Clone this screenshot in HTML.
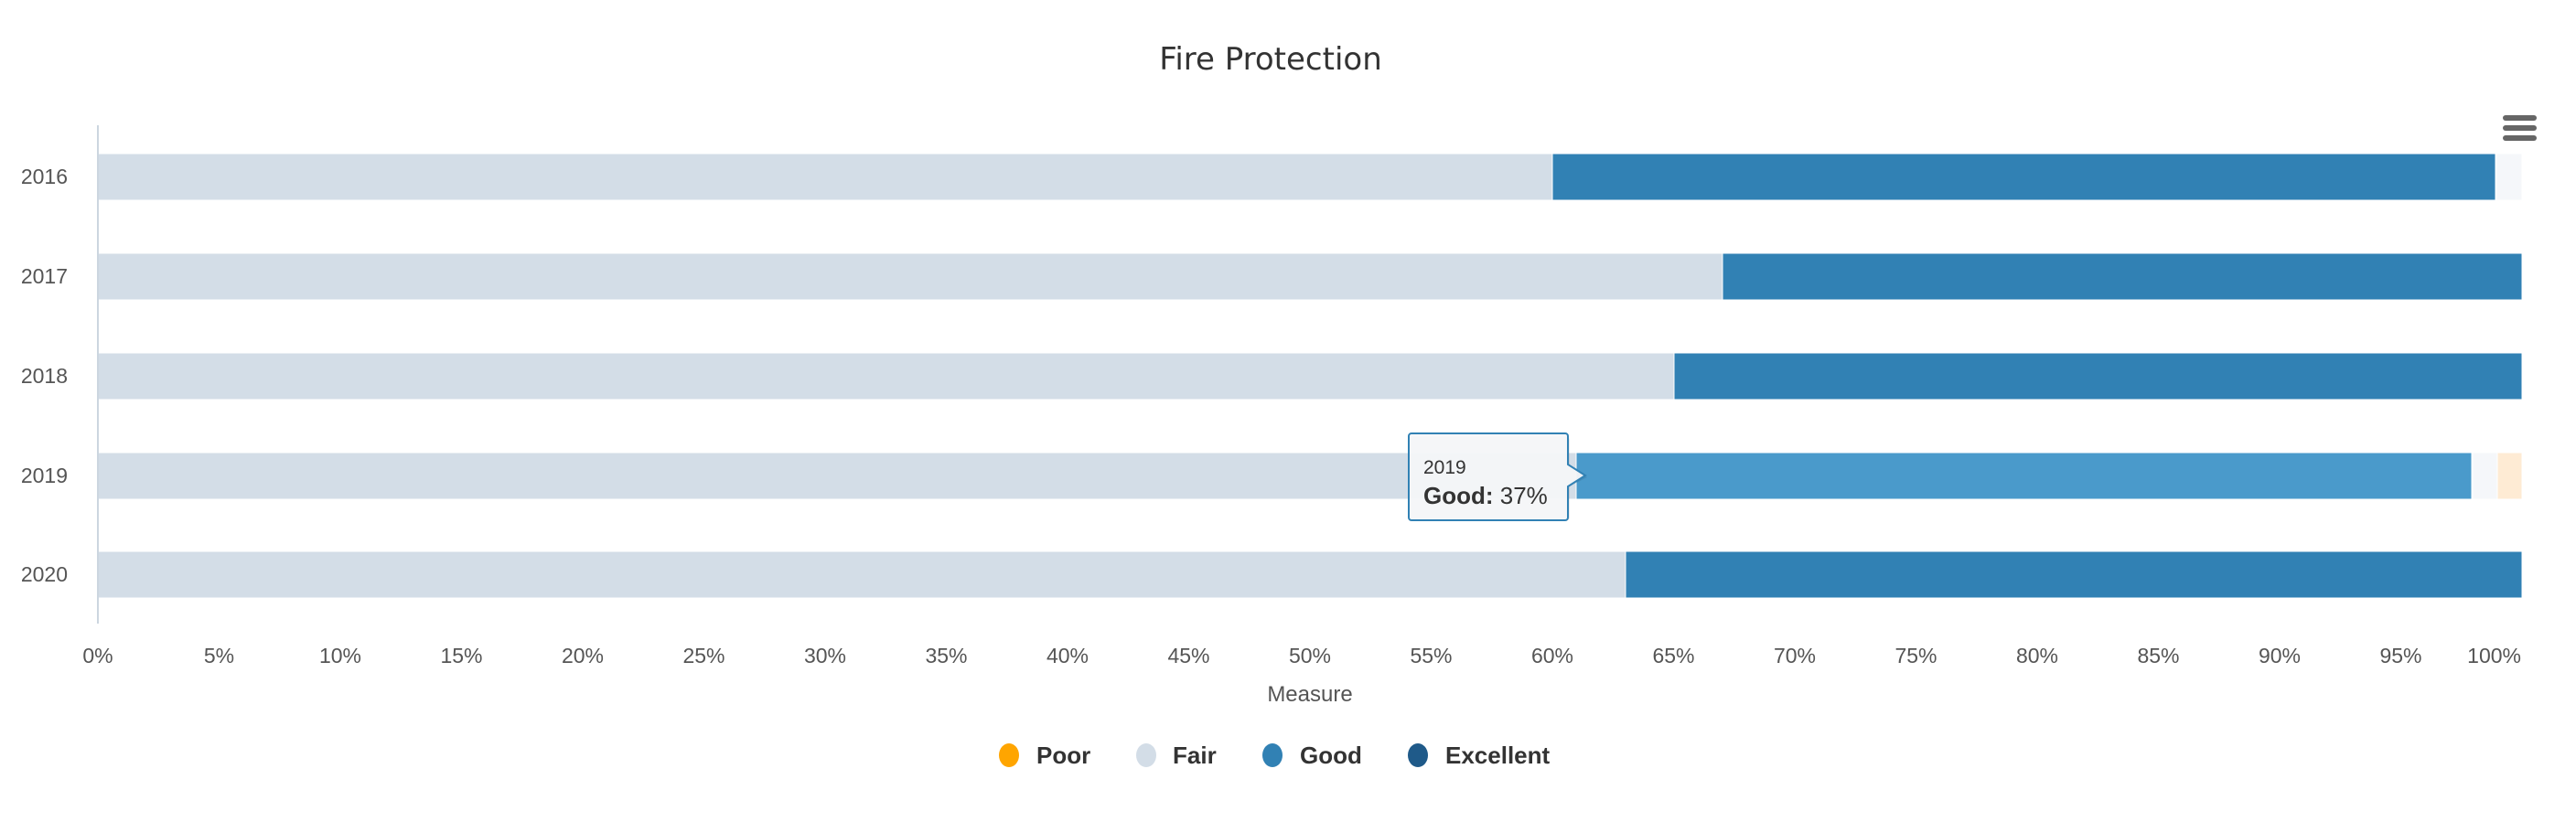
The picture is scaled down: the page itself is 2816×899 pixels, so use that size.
<!DOCTYPE html>
<html><head><meta charset="utf-8"><style>html,body{margin:0;padding:0;background:#fff;}</style></head>
<body>
<svg width="2816" height="894" xmlns="http://www.w3.org/2000/svg" font-family="Liberation Sans, sans-serif">
<rect width="2816" height="894" fill="#fff"/>
<text x="1389" y="76" text-anchor="middle" font-size="34" fill="#333" font-family="DejaVu Sans, Liberation Sans, sans-serif">Fire Protection</text>
<g fill="#666"><rect x="2736" y="126" width="37" height="6" rx="3"/><rect x="2736" y="137" width="37" height="6" rx="3"/><rect x="2736" y="148" width="37" height="6" rx="3"/></g>
<g stroke="#fff" stroke-width="1">
<rect x="107" y="168" width="1590" height="51" fill="#d3dde7"/>
<rect x="1697" y="168" width="1031" height="51" fill="#3181b4"/>
<rect x="2729" y="168" width="28" height="51" fill="#f5f7fa"/>
<rect x="107" y="277" width="1776" height="51" fill="#d3dde7"/>
<rect x="1883" y="277" width="874" height="51" fill="#3181b4"/>
<rect x="107" y="386" width="1723" height="51" fill="#d3dde7"/>
<rect x="1830" y="386" width="927" height="51" fill="#3181b4"/>
<rect x="107" y="495" width="1616" height="51" fill="#d3dde7"/>
<rect x="1723" y="495" width="979" height="51" fill="#4a9acb"/>
<rect x="2703" y="495" width="27" height="51" fill="#f5f7fa"/>
<rect x="2730" y="495" width="27" height="51" fill="#feebd4"/>
<rect x="107" y="603" width="1670" height="51" fill="#d3dde7"/>
<rect x="1777" y="603" width="980" height="51" fill="#3181b4"/>
</g>
<line x1="107" y1="137" x2="107" y2="682" stroke="#ccd6e0" stroke-width="2"/>
<g font-size="23" fill="#555" text-anchor="end">
<text x="74" y="201">2016</text><text x="74" y="310">2017</text><text x="74" y="419">2018</text><text x="74" y="528">2019</text><text x="74" y="636">2020</text>
</g>
<g font-size="23" fill="#555" text-anchor="middle">
<text x="107" y="725">0%</text><text x="239.5" y="725">5%</text><text x="372" y="725">10%</text><text x="504.5" y="725">15%</text><text x="637" y="725">20%</text><text x="769.5" y="725">25%</text><text x="902" y="725">30%</text><text x="1034.5" y="725">35%</text><text x="1167" y="725">40%</text><text x="1299.5" y="725">45%</text><text x="1432" y="725">50%</text><text x="1564.5" y="725">55%</text><text x="1697" y="725">60%</text><text x="1829.5" y="725">65%</text><text x="1962" y="725">70%</text><text x="2094.5" y="725">75%</text><text x="2227" y="725">80%</text><text x="2359.5" y="725">85%</text><text x="2492" y="725">90%</text><text x="2624.5" y="725">95%</text><text x="2756" y="725" text-anchor="end">100%</text>
</g>
<text x="1432" y="767" text-anchor="middle" font-size="24" fill="#555">Measure</text>
<path d="M1543,476 H1711 a3,3 0 0 1 3,3 V510 L1733,520 L1714,530 V564 a3,3 0 0 1 -3,3 H1543 a3,3 0 0 1 -3,-3 V479 a3,3 0 0 1 3,-3 Z" fill="#000" opacity="0.08" transform="translate(2,2)"/>
<path d="M1543,474 H1711 a3,3 0 0 1 3,3 V508 L1733,520 L1714,532 V566 a3,3 0 0 1 -3,3 H1543 a3,3 0 0 1 -3,-3 V477 a3,3 0 0 1 3,-3 Z" fill="#f6f7f9" fill-opacity="0.95" stroke="#3181b4" stroke-width="2"/>
<text x="1556" y="518" font-size="21" fill="#333">2019</text>
<text x="1556" y="551" font-size="26" fill="#333"><tspan font-weight="bold">Good:</tspan> 37%</text>
<g font-size="26" font-weight="bold" fill="#333">
<ellipse cx="1103" cy="826" rx="11" ry="13" fill="#ffa500"/><text x="1133" y="835">Poor</text>
<ellipse cx="1253" cy="826" rx="11" ry="13" fill="#d3dde7"/><text x="1282" y="835">Fair</text>
<ellipse cx="1391" cy="826" rx="11" ry="13" fill="#3181b4"/><text x="1421" y="835">Good</text>
<ellipse cx="1550" cy="826" rx="11" ry="13" fill="#1f5a89"/><text x="1580" y="835">Excellent</text>
</g>
</svg>
</body></html>
